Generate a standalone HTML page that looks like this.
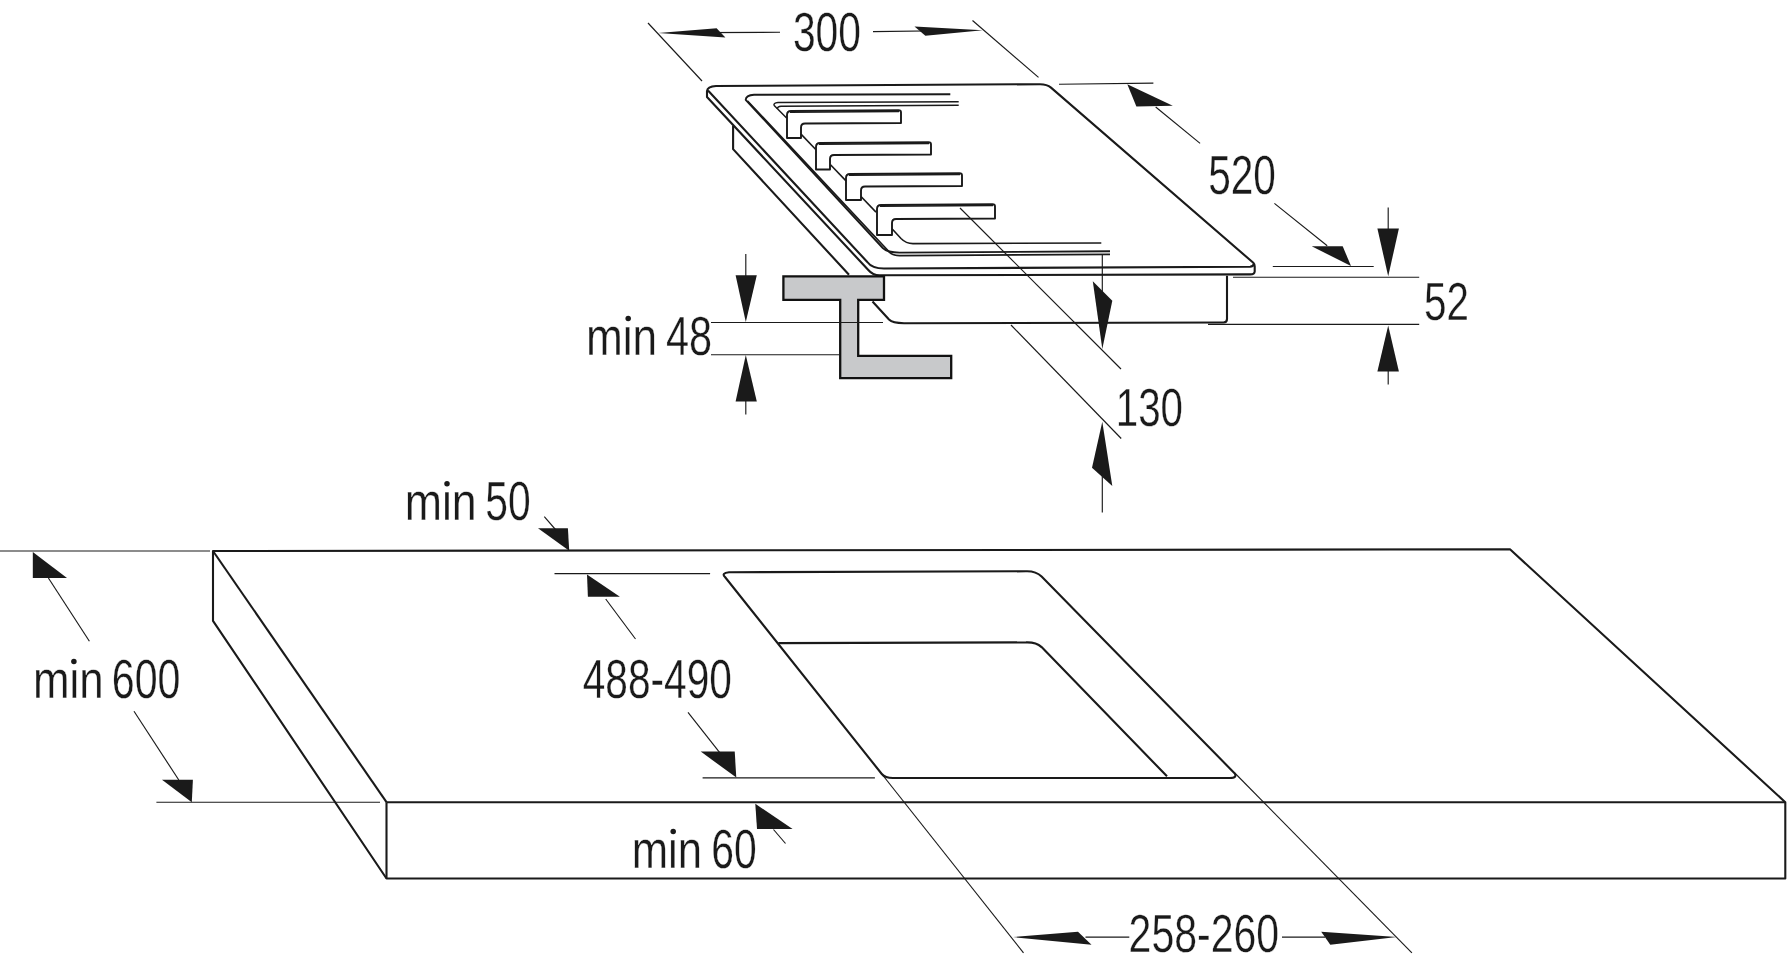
<!DOCTYPE html>
<html><head><meta charset="utf-8"><style>
html,body{margin:0;padding:0;background:#fff;width:1787px;height:967px;overflow:hidden}
svg{display:block;will-change:transform}
text{font-family:"Liberation Sans",sans-serif;fill:#1a1a1a}
</style></head><body>
<svg width="1787" height="967" viewBox="0 0 1787 967">
<g stroke="#1a1a1a" fill="none" stroke-linecap="butt" stroke-linejoin="round">
<line x1="648" y1="23" x2="702" y2="81" stroke-width="1.15"/>
<line x1="972.5" y1="20.5" x2="1038.5" y2="77.4" stroke-width="1.15"/>
<line x1="700" y1="32.6" x2="780" y2="32.3" stroke-width="1.15"/>
<polygon points="658.2,32.9 716.6,28.2 725.4,37.4" fill="#1a1a1a" stroke="none"/>
<line x1="873" y1="31.6" x2="960" y2="30.5" stroke-width="1.15"/>
<polygon points="982.8,30.3 914.5,26.4 925.4,35.7" fill="#1a1a1a" stroke="none"/>
<text transform="translate(792.90,50.71) scale(0.7404,1)" font-size="55.08" stroke="#fff" stroke-width="0.3" vector-effect="non-scaling-stroke">300</text>
<path d="M707,97 L707,91 Q707.5,86.5 716,86 L1040,84.2 Q1047,84.2 1051,87.6 L1253.3,262.8 Q1254.7,264.2 1254.7,266.5 L1254.7,271.5 Q1254.5,274.4 1250.2,274.4 L880,275.3 Q873,275.5 868.3,270 Z" stroke-width="2.1" fill="none" />
<path d="M708,90.5 L867.3,262 Q872,268.5 884,268.5 L1250,266.8 Q1253,266.5 1254,264" stroke-width="2.1" fill="none" />
<path d="M950.3,94.3 L754,94.8 Q746,95.2 745.7,99.8 L882.8,248 Q887.5,252.6 899.6,252.6 L1110,251.3" stroke-width="1.9" fill="none" />
<path d="M747.6,101 L888.4,251 Q891.5,255.6 899.6,255.6 L1110,254.4" stroke-width="1.7" fill="none" />
<path d="M958.7,101.7 L778,102.6 Q773,103 774.2,105.5 L786.6,118" stroke-width="1.5" fill="none" />
<path d="M958.7,105.3 L781,106.2 Q777.5,106.4 777.2,108.8" stroke-width="1.5" fill="none" />
<line x1="801" y1="134.08" x2="816" y2="149.68" stroke-width="1.6"/>
<line x1="830.5" y1="164.76" x2="846" y2="180.88" stroke-width="1.6"/>
<line x1="861" y1="196.48000000000002" x2="876" y2="212.07999999999998" stroke-width="1.6"/>
<path d="M892,228.8 L901,238.5 Q906,243.6 913,243.6 L1101.3,243" stroke-width="1.6" fill="none" />
<path d="M787,138 L787,115 Q787,111 791,111 L898.5,110.2 Q901,110.2 901,112.5 L901,123.0 L805,123.5 Q801,123.5 801,127.5 L801,138 Z" stroke-width="1.9" fill="none" />
<line x1="790" y1="112.3" x2="899" y2="111.5" stroke-width="1.6"/>
<path d="M816,169.5 L816,147 Q816,143 820,143 L928.5,142.2 Q931,142.2 931,144.5 L931,154.5 L834,155 Q830,155 830,159 L830,169.5 Z" stroke-width="1.9" fill="none" />
<line x1="819" y1="144.3" x2="929" y2="143.5" stroke-width="1.6"/>
<path d="M846,200 L846,178 Q846,174 850,174 L959.5,173.2 Q962,173.2 962,175.5 L962,186.0 L865,186.5 Q861,186.5 861,190.5 L861,200 Z" stroke-width="1.9" fill="none" />
<line x1="849" y1="175.3" x2="960" y2="174.5" stroke-width="1.6"/>
<path d="M877,235 L877,209 Q877,205 881,205 L992.5,204.2 Q995,204.2 995,206.5 L995,218.5 L896,219 Q892,219 892,223 L892,235 Z" stroke-width="1.9" fill="none" />
<line x1="880" y1="206.3" x2="993" y2="205.5" stroke-width="1.6"/>
<path d="M733.1,125.8 L733.1,149.1 L849,274.8" stroke-width="2.1" fill="none" />
<path d="M872.5,301.5 L889,319.5 Q892.5,323 904,323.2 L1223.5,322.5 Q1227,322.5 1227,319 L1227,275.8" stroke-width="2.1" fill="none" />
<polygon points="783.4,276.4 884,276.4 884,299.8 858.2,299.8 858.2,355.8 951.2,355.8 951.2,378.2 840.2,378.2 840.2,299.8 783.4,299.8" fill="#c8c9cb" stroke="#111" stroke-width="2.3" stroke-linejoin="miter"/>
<line x1="745.8" y1="254" x2="745.8" y2="276" stroke-width="1.15"/>
<polygon points="735.6,275.3 756.8,275.3 745.8,322" fill="#1a1a1a" stroke="none"/>
<line x1="711" y1="322.5" x2="883" y2="322.5" stroke-width="1.15"/>
<line x1="711" y1="354.7" x2="840" y2="354.7" stroke-width="1.15"/>
<polygon points="745.8,355 735.6,401.6 756.8,401.6" fill="#1a1a1a" stroke="none"/>
<line x1="745.8" y1="401" x2="745.8" y2="414.6" stroke-width="1.15"/>
<text transform="translate(585.92,355.25) scale(0.8115,1)" font-size="54.45" stroke="#fff" stroke-width="0.3" vector-effect="non-scaling-stroke">min</text>
<text transform="translate(665.90,355.11) scale(0.7533,1)" font-size="55.08" stroke="#fff" stroke-width="0.3" vector-effect="non-scaling-stroke">48</text>
<line x1="1388.2" y1="207.6" x2="1388.2" y2="229" stroke-width="1.15"/>
<polygon points="1377.4,228.5 1398.9,228.5 1388.2,276.3" fill="#1a1a1a" stroke="none"/>
<line x1="1233" y1="277.2" x2="1419.2" y2="277.2" stroke-width="1.15"/>
<line x1="1208" y1="324.4" x2="1419.2" y2="324.4" stroke-width="1.15"/>
<polygon points="1388.2,325.4 1377.4,371.6 1398.9,371.6" fill="#1a1a1a" stroke="none"/>
<line x1="1388.2" y1="371" x2="1388.2" y2="384.4" stroke-width="1.15"/>
<text transform="translate(1424.03,319.92) scale(0.7412,1)" font-size="54.52" stroke="#fff" stroke-width="0.3" vector-effect="non-scaling-stroke">52</text>
<line x1="1059" y1="84.2" x2="1153.4" y2="83.1" stroke-width="1.15"/>
<polygon points="1127.3,84.2 1136.4,106.5 1172.8,105.8" fill="#1a1a1a" stroke="none"/>
<line x1="1155.7" y1="107" x2="1200.1" y2="143.4" stroke-width="1.15"/>
<text transform="translate(1208.13,194.21) scale(0.7367,1)" font-size="55.08" stroke="#fff" stroke-width="0.3" vector-effect="non-scaling-stroke">520</text>
<line x1="1274.4" y1="203.4" x2="1327.2" y2="245.8" stroke-width="1.15"/>
<polygon points="1311.7,246.2 1342.7,246.2 1351,266.1" fill="#1a1a1a" stroke="none"/>
<line x1="1272.8" y1="266.5" x2="1373.7" y2="266.5" stroke-width="1.15"/>
<line x1="1102.3" y1="255" x2="1102.3" y2="300" stroke-width="1.15"/>
<polygon points="1092.8,281.3 1112.3,300.8 1102.3,349.1" fill="#1a1a1a" stroke="none"/>
<polygon points="1102.3,421.7 1092,467.8 1112.3,486" fill="#1a1a1a" stroke="none"/>
<line x1="1102.3" y1="470" x2="1102.3" y2="512.5" stroke-width="1.15"/>
<line x1="960" y1="208" x2="1121" y2="369" stroke-width="1.15"/>
<line x1="1011" y1="325" x2="1121.2" y2="438.5" stroke-width="1.15"/>
<text transform="translate(1115.78,426.13) scale(0.7509,1)" font-size="53.67" stroke="#fff" stroke-width="0.3" vector-effect="non-scaling-stroke">130</text>
<path d="M213,551 L1510,549.3 L1785.3,802.2 L1785.3,878.5 L386.5,878.5 L213,620.8 Z" stroke-width="2.1" fill="none" />
<line x1="213" y1="551" x2="386.5" y2="802.2" stroke-width="2.1"/>
<line x1="386.5" y1="802.2" x2="1785.3" y2="802.2" stroke-width="2.1"/>
<line x1="386.5" y1="802.2" x2="386.5" y2="878.5" stroke-width="2.1"/>
<line x1="0" y1="551" x2="210" y2="551" stroke-width="1.15"/>
<line x1="156.4" y1="802.2" x2="380" y2="802.2" stroke-width="1.15"/>
<polygon points="32.8,552 32.8,578 67,578" fill="#1a1a1a" stroke="none"/>
<line x1="48.4" y1="578" x2="89.4" y2="641.3" stroke-width="1.15"/>
<polygon points="191.8,802.2 162,779.8 192.9,779.8" fill="#1a1a1a" stroke="none"/>
<line x1="134" y1="711.3" x2="178.8" y2="780" stroke-width="1.15"/>
<text transform="translate(33.04,698.15) scale(0.8165,1)" font-size="53.71" stroke="#fff" stroke-width="0.3" vector-effect="non-scaling-stroke">min</text>
<text transform="translate(111.86,698.10) scale(0.7350,1)" font-size="55.93" stroke="#fff" stroke-width="0.3" vector-effect="non-scaling-stroke">600</text>
<polygon points="569.2,550.8 538,528.2 567.9,528.2" fill="#1a1a1a" stroke="none"/>
<line x1="544.3" y1="516.7" x2="555.9" y2="530" stroke-width="1.15"/>
<text transform="translate(404.68,519.95) scale(0.8328,1)" font-size="53.71" stroke="#fff" stroke-width="0.3" vector-effect="non-scaling-stroke">min</text>
<text transform="translate(485.21,519.81) scale(0.7358,1)" font-size="55.51" stroke="#fff" stroke-width="0.3" vector-effect="non-scaling-stroke">50</text>
<line x1="554.5" y1="573.6" x2="710.1" y2="573.6" stroke-width="1.15"/>
<polygon points="587,574.5 587.9,596.7 619.9,596.7" fill="#1a1a1a" stroke="none"/>
<line x1="605.7" y1="599" x2="635.5" y2="639" stroke-width="1.15"/>
<polygon points="736.3,777.5 700.7,751.6 734.7,751.6" fill="#1a1a1a" stroke="none"/>
<line x1="688" y1="712.3" x2="721.3" y2="754.6" stroke-width="1.15"/>
<line x1="702.6" y1="777.8" x2="874.9" y2="777.8" stroke-width="1.15"/>
<text transform="translate(582.72,698.11) scale(0.7288,1)" font-size="55.79" stroke="#fff" stroke-width="0.3" vector-effect="non-scaling-stroke">488-490</text>
<path d="M725,577 Q721,573 729,572.2 L1026,571.3 Q1036,571 1041.6,576.6 L1234.3,773 Q1238,778 1229.6,778 L893,778 Q885,778 881.8,774 Z" stroke-width="2.1" fill="none" />
<path d="M778.3,643.1 L1026,642.4 Q1036,642 1041.6,647.1 L1167,776.3" stroke-width="2.1" fill="none" />
<polygon points="755.3,803.8 757,829.1 792.6,829.1" fill="#1a1a1a" stroke="none"/>
<line x1="773.5" y1="829.5" x2="785.5" y2="843.5" stroke-width="1.15"/>
<text transform="translate(631.75,867.95) scale(0.8016,1)" font-size="54.45" stroke="#fff" stroke-width="0.3" vector-effect="non-scaling-stroke">min</text>
<text transform="translate(711.37,867.81) scale(0.7403,1)" font-size="55.23" stroke="#fff" stroke-width="0.3" vector-effect="non-scaling-stroke">60</text>
<line x1="881.8" y1="774" x2="1023.5" y2="952.8" stroke-width="1.15"/>
<line x1="1234.3" y1="772.5" x2="1411.9" y2="952.8" stroke-width="1.15"/>
<polygon points="1013,937.1 1078,931.7 1091.5,944.7" fill="#1a1a1a" stroke="none"/>
<line x1="1085.5" y1="937.1" x2="1129.3" y2="937.1" stroke-width="1.15"/>
<polygon points="1396.8,937.1 1321.2,931.7 1330.3,944.7" fill="#1a1a1a" stroke="none"/>
<line x1="1282" y1="937.1" x2="1325" y2="937.1" stroke-width="1.15"/>
<text transform="translate(1128.59,951.53) scale(0.7705,1)" font-size="53.25" stroke="#fff" stroke-width="0.3" vector-effect="non-scaling-stroke">258-260</text>
<rect x="623.5" y="314.0" width="7" height="7" fill="#fff" stroke="none"/>
<circle cx="628.2" cy="318.6" r="2.75" fill="#1a1a1a" stroke="none"/>
<rect x="70.5" y="657.0" width="7" height="7" fill="#fff" stroke="none"/>
<circle cx="73.9" cy="661.5" r="2.75" fill="#1a1a1a" stroke="none"/>
<rect x="443.0" y="479.0" width="7" height="7" fill="#fff" stroke="none"/>
<circle cx="447" cy="483.8" r="2.75" fill="#1a1a1a" stroke="none"/>
<rect x="669.0" y="827.0" width="7" height="7" fill="#fff" stroke="none"/>
<circle cx="673.2" cy="831.6" r="2.75" fill="#1a1a1a" stroke="none"/>
</g>
</svg>
</body></html>
